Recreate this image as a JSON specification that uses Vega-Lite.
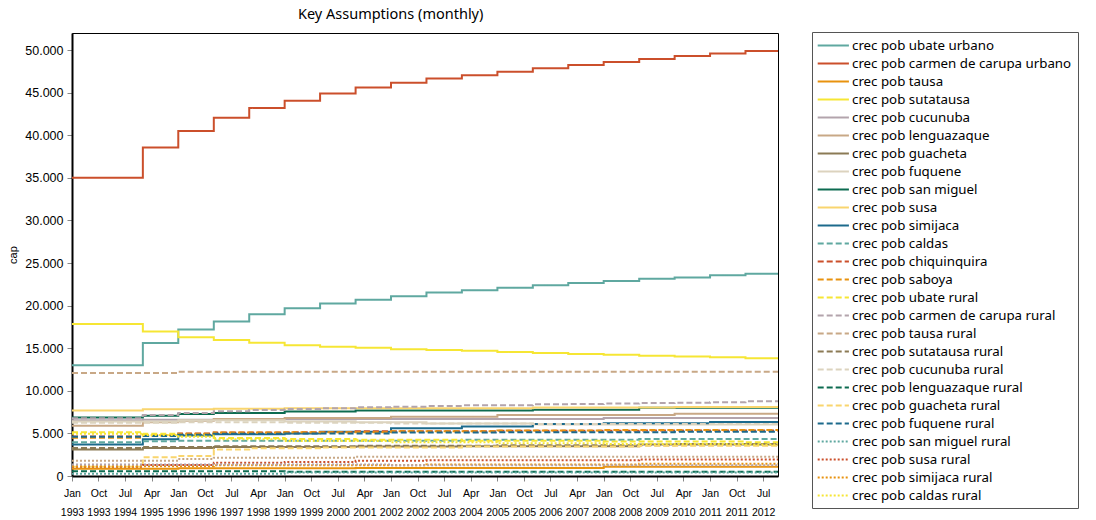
{
  "$schema": "https://vega.github.io/schema/vega-lite/v6.json",
  "width": 706,
  "height": 443,
  "autosize": {"type": "none"},
  "padding": {"left": 72, "top": 33, "right": 318, "bottom": 44},
  "background": "#ffffff",
  "title": {"text": "Key Assumptions (monthly)", "anchor": "start", "frame": "group", "dx": 226, "offset": 9, "font": "Noto Sans", "fontSize": 14.5, "fontWeight": "normal", "color": "#000"},
  "data": {"values": [
    {"s":"crec pob ubate urbano","d":"1993-01-01","v":13000},{"s":"crec pob ubate urbano","d":"1995-01-01","v":15600},{"s":"crec pob ubate urbano","d":"1996-01-01","v":17200},{"s":"crec pob ubate urbano","d":"1997-01-01","v":18150},{"s":"crec pob ubate urbano","d":"1998-01-01","v":19000},{"s":"crec pob ubate urbano","d":"1999-01-01","v":19700},{"s":"crec pob ubate urbano","d":"2000-01-01","v":20250},{"s":"crec pob ubate urbano","d":"2001-01-01","v":20700},{"s":"crec pob ubate urbano","d":"2002-01-01","v":21100},{"s":"crec pob ubate urbano","d":"2003-01-01","v":21550},{"s":"crec pob ubate urbano","d":"2004-01-01","v":21800},{"s":"crec pob ubate urbano","d":"2005-01-01","v":22100},{"s":"crec pob ubate urbano","d":"2006-01-01","v":22400},{"s":"crec pob ubate urbano","d":"2007-01-01","v":22650},{"s":"crec pob ubate urbano","d":"2008-01-01","v":22900},{"s":"crec pob ubate urbano","d":"2009-01-01","v":23150},{"s":"crec pob ubate urbano","d":"2010-01-01","v":23300},{"s":"crec pob ubate urbano","d":"2011-01-01","v":23550},{"s":"crec pob ubate urbano","d":"2012-01-01","v":23750},{"s":"crec pob ubate urbano","d":"2012-12-01","v":23750},
    {"s":"crec pob carmen de carupa urbano","d":"1993-01-01","v":35000},{"s":"crec pob carmen de carupa urbano","d":"1995-01-01","v":38550},{"s":"crec pob carmen de carupa urbano","d":"1996-01-01","v":40500},{"s":"crec pob carmen de carupa urbano","d":"1997-01-01","v":42050},{"s":"crec pob carmen de carupa urbano","d":"1998-01-01","v":43200},{"s":"crec pob carmen de carupa urbano","d":"1999-01-01","v":44050},{"s":"crec pob carmen de carupa urbano","d":"2000-01-01","v":44900},{"s":"crec pob carmen de carupa urbano","d":"2001-01-01","v":45600},{"s":"crec pob carmen de carupa urbano","d":"2002-01-01","v":46150},{"s":"crec pob carmen de carupa urbano","d":"2003-01-01","v":46650},{"s":"crec pob carmen de carupa urbano","d":"2004-01-01","v":47050},{"s":"crec pob carmen de carupa urbano","d":"2005-01-01","v":47450},{"s":"crec pob carmen de carupa urbano","d":"2006-01-01","v":47850},{"s":"crec pob carmen de carupa urbano","d":"2007-01-01","v":48250},{"s":"crec pob carmen de carupa urbano","d":"2008-01-01","v":48600},{"s":"crec pob carmen de carupa urbano","d":"2009-01-01","v":48950},{"s":"crec pob carmen de carupa urbano","d":"2010-01-01","v":49300},{"s":"crec pob carmen de carupa urbano","d":"2011-01-01","v":49600},{"s":"crec pob carmen de carupa urbano","d":"2012-01-01","v":49900},{"s":"crec pob carmen de carupa urbano","d":"2012-12-01","v":49900},
    {"s":"crec pob tausa","d":"1993-01-01","v":850},{"s":"crec pob tausa","d":"1996-01-01","v":900},{"s":"crec pob tausa","d":"2001-01-01","v":950},{"s":"crec pob tausa","d":"2008-01-01","v":1100},{"s":"crec pob tausa","d":"2012-12-01","v":1100},
    {"s":"crec pob sutatausa","d":"1993-01-01","v":17850},{"s":"crec pob sutatausa","d":"1995-01-01","v":16950},{"s":"crec pob sutatausa","d":"1996-01-01","v":16300},{"s":"crec pob sutatausa","d":"1997-01-01","v":15950},{"s":"crec pob sutatausa","d":"1998-01-01","v":15650},{"s":"crec pob sutatausa","d":"1999-01-01","v":15350},{"s":"crec pob sutatausa","d":"2000-01-01","v":15180},{"s":"crec pob sutatausa","d":"2001-01-01","v":15050},{"s":"crec pob sutatausa","d":"2002-01-01","v":14880},{"s":"crec pob sutatausa","d":"2003-01-01","v":14800},{"s":"crec pob sutatausa","d":"2004-01-01","v":14700},{"s":"crec pob sutatausa","d":"2005-01-01","v":14570},{"s":"crec pob sutatausa","d":"2006-01-01","v":14450},{"s":"crec pob sutatausa","d":"2007-01-01","v":14330},{"s":"crec pob sutatausa","d":"2008-01-01","v":14230},{"s":"crec pob sutatausa","d":"2009-01-01","v":14120},{"s":"crec pob sutatausa","d":"2010-01-01","v":14030},{"s":"crec pob sutatausa","d":"2011-01-01","v":13940},{"s":"crec pob sutatausa","d":"2012-01-01","v":13820},{"s":"crec pob sutatausa","d":"2012-12-01","v":13820},
    {"s":"crec pob cucunuba","d":"1993-01-01","v":6550},{"s":"crec pob cucunuba","d":"1995-01-01","v":6600},{"s":"crec pob cucunuba","d":"1997-01-01","v":6650},{"s":"crec pob cucunuba","d":"2001-01-01","v":6700},{"s":"crec pob cucunuba","d":"2008-01-01","v":6800},{"s":"crec pob cucunuba","d":"2012-12-01","v":6800},
    {"s":"crec pob lenguazaque","d":"1993-01-01","v":5900},{"s":"crec pob lenguazaque","d":"1995-01-01","v":6300},{"s":"crec pob lenguazaque","d":"1996-01-01","v":6500},{"s":"crec pob lenguazaque","d":"1997-01-01","v":6700},{"s":"crec pob lenguazaque","d":"1999-01-01","v":6800},{"s":"crec pob lenguazaque","d":"2002-01-01","v":6950},{"s":"crec pob lenguazaque","d":"2005-01-01","v":7150},{"s":"crec pob lenguazaque","d":"2010-01-01","v":7300},{"s":"crec pob lenguazaque","d":"2012-12-01","v":7300},
    {"s":"crec pob guacheta","d":"1993-01-01","v":3100},{"s":"crec pob guacheta","d":"1995-01-01","v":3300},{"s":"crec pob guacheta","d":"1997-01-01","v":3400},{"s":"crec pob guacheta","d":"2001-01-01","v":3450},{"s":"crec pob guacheta","d":"2004-01-01","v":3500},{"s":"crec pob guacheta","d":"2009-01-01","v":3700},{"s":"crec pob guacheta","d":"2012-12-01","v":3700},
    {"s":"crec pob fuquene","d":"1993-01-01","v":6400},{"s":"crec pob fuquene","d":"1996-01-01","v":6550},{"s":"crec pob fuquene","d":"1999-01-01","v":6400},{"s":"crec pob fuquene","d":"2001-01-01","v":6300},{"s":"crec pob fuquene","d":"2003-01-01","v":6150},{"s":"crec pob fuquene","d":"2006-01-01","v":6050},{"s":"crec pob fuquene","d":"2012-12-01","v":6050},
    {"s":"crec pob san miguel","d":"1993-01-01","v":6880},{"s":"crec pob san miguel","d":"1995-01-01","v":7080},{"s":"crec pob san miguel","d":"1996-01-01","v":7280},{"s":"crec pob san miguel","d":"1997-01-01","v":7400},{"s":"crec pob san miguel","d":"1999-01-01","v":7560},{"s":"crec pob san miguel","d":"2001-01-01","v":7680},{"s":"crec pob san miguel","d":"2006-01-01","v":7780},{"s":"crec pob san miguel","d":"2009-01-01","v":8000},{"s":"crec pob san miguel","d":"2012-12-01","v":8000},
    {"s":"crec pob susa","d":"1993-01-01","v":7700},{"s":"crec pob susa","d":"1995-01-01","v":7830},{"s":"crec pob susa","d":"1997-01-01","v":7900},{"s":"crec pob susa","d":"1999-01-01","v":7950},{"s":"crec pob susa","d":"2006-01-01","v":8050},{"s":"crec pob susa","d":"2010-01-01","v":8100},{"s":"crec pob susa","d":"2012-12-01","v":8100},
    {"s":"crec pob simijaca","d":"1993-01-01","v":3700},{"s":"crec pob simijaca","d":"1995-01-01","v":4300},{"s":"crec pob simijaca","d":"1996-01-01","v":4750},{"s":"crec pob simijaca","d":"1997-01-01","v":4900},{"s":"crec pob simijaca","d":"1999-01-01","v":5000},{"s":"crec pob simijaca","d":"2000-01-01","v":5200},{"s":"crec pob simijaca","d":"2002-01-01","v":5600},{"s":"crec pob simijaca","d":"2004-01-01","v":5800},{"s":"crec pob simijaca","d":"2006-01-01","v":6100},{"s":"crec pob simijaca","d":"2008-01-01","v":6200},{"s":"crec pob simijaca","d":"2011-01-01","v":6350},{"s":"crec pob simijaca","d":"2012-12-01","v":6350},
    {"s":"crec pob caldas","d":"1993-01-01","v":3950},{"s":"crec pob caldas","d":"1995-01-01","v":4080},{"s":"crec pob caldas","d":"1996-01-01","v":4150},{"s":"crec pob caldas","d":"2004-01-01","v":4250},{"s":"crec pob caldas","d":"2009-01-01","v":4350},{"s":"crec pob caldas","d":"2012-12-01","v":4350},
    {"s":"crec pob chiquinquira","d":"1993-01-01","v":4650},{"s":"crec pob chiquinquira","d":"1995-01-01","v":4800},{"s":"crec pob chiquinquira","d":"1996-01-01","v":5000},{"s":"crec pob chiquinquira","d":"1997-01-01","v":5100},{"s":"crec pob chiquinquira","d":"1999-01-01","v":5150},{"s":"crec pob chiquinquira","d":"2001-01-01","v":5250},{"s":"crec pob chiquinquira","d":"2005-01-01","v":5300},{"s":"crec pob chiquinquira","d":"2009-01-01","v":5350},{"s":"crec pob chiquinquira","d":"2012-12-01","v":5350},
    {"s":"crec pob saboya","d":"1993-01-01","v":4500},{"s":"crec pob saboya","d":"1995-01-01","v":4750},{"s":"crec pob saboya","d":"1996-01-01","v":4950},{"s":"crec pob saboya","d":"1997-01-01","v":5100},{"s":"crec pob saboya","d":"1999-01-01","v":5150},{"s":"crec pob saboya","d":"2002-01-01","v":5250},{"s":"crec pob saboya","d":"2005-01-01","v":5350},{"s":"crec pob saboya","d":"2008-01-01","v":5400},{"s":"crec pob saboya","d":"2012-12-01","v":5400},
    {"s":"crec pob ubate rural","d":"1993-01-01","v":5150},{"s":"crec pob ubate rural","d":"1995-01-01","v":4950},{"s":"crec pob ubate rural","d":"1996-01-01","v":4750},{"s":"crec pob ubate rural","d":"1997-01-01","v":4450},{"s":"crec pob ubate rural","d":"1999-01-01","v":4350},{"s":"crec pob ubate rural","d":"2001-01-01","v":4250},{"s":"crec pob ubate rural","d":"2004-01-01","v":4150},{"s":"crec pob ubate rural","d":"2008-01-01","v":4050},{"s":"crec pob ubate rural","d":"2012-01-01","v":3950},{"s":"crec pob ubate rural","d":"2012-12-01","v":3950},
    {"s":"crec pob carmen de carupa rural","d":"1993-01-01","v":6780},{"s":"crec pob carmen de carupa rural","d":"1995-01-01","v":7170},{"s":"crec pob carmen de carupa rural","d":"1996-01-01","v":7400},{"s":"crec pob carmen de carupa rural","d":"1997-01-01","v":7600},{"s":"crec pob carmen de carupa rural","d":"1998-01-01","v":7750},{"s":"crec pob carmen de carupa rural","d":"1999-01-01","v":7870},{"s":"crec pob carmen de carupa rural","d":"2000-01-01","v":7950},{"s":"crec pob carmen de carupa rural","d":"2001-01-01","v":8060},{"s":"crec pob carmen de carupa rural","d":"2002-01-01","v":8140},{"s":"crec pob carmen de carupa rural","d":"2003-01-01","v":8220},{"s":"crec pob carmen de carupa rural","d":"2004-01-01","v":8300},{"s":"crec pob carmen de carupa rural","d":"2006-01-01","v":8420},{"s":"crec pob carmen de carupa rural","d":"2007-01-01","v":8460},{"s":"crec pob carmen de carupa rural","d":"2008-01-01","v":8500},{"s":"crec pob carmen de carupa rural","d":"2009-01-01","v":8580},{"s":"crec pob carmen de carupa rural","d":"2010-01-01","v":8610},{"s":"crec pob carmen de carupa rural","d":"2011-01-01","v":8650},{"s":"crec pob carmen de carupa rural","d":"2012-01-01","v":8780},{"s":"crec pob carmen de carupa rural","d":"2012-12-01","v":8780},
    {"s":"crec pob tausa rural","d":"1993-01-01","v":12100},{"s":"crec pob tausa rural","d":"1996-01-01","v":12250},{"s":"crec pob tausa rural","d":"2012-12-01","v":12250},
    {"s":"crec pob sutatausa rural","d":"1993-01-01","v":3300},{"s":"crec pob sutatausa rural","d":"1995-01-01","v":3400},{"s":"crec pob sutatausa rural","d":"1997-01-01","v":3500},{"s":"crec pob sutatausa rural","d":"2001-01-01","v":3550},{"s":"crec pob sutatausa rural","d":"2005-01-01","v":3600},{"s":"crec pob sutatausa rural","d":"2010-01-01","v":3750},{"s":"crec pob sutatausa rural","d":"2012-12-01","v":3750},
    {"s":"crec pob cucunuba rural","d":"1993-01-01","v":6250},{"s":"crec pob cucunuba rural","d":"1996-01-01","v":6300},{"s":"crec pob cucunuba rural","d":"1999-01-01","v":6250},{"s":"crec pob cucunuba rural","d":"2002-01-01","v":6150},{"s":"crec pob cucunuba rural","d":"2006-01-01","v":6100},{"s":"crec pob cucunuba rural","d":"2012-12-01","v":6100},
    {"s":"crec pob lenguazaque rural","d":"1993-01-01","v":550},{"s":"crec pob lenguazaque rural","d":"1999-01-01","v":500},{"s":"crec pob lenguazaque rural","d":"2012-12-01","v":500},
    {"s":"crec pob guacheta rural","d":"1993-01-01","v":1100},{"s":"crec pob guacheta rural","d":"1995-01-01","v":2200},{"s":"crec pob guacheta rural","d":"1996-01-01","v":2350},{"s":"crec pob guacheta rural","d":"1997-01-01","v":3100},{"s":"crec pob guacheta rural","d":"1998-01-01","v":3250},{"s":"crec pob guacheta rural","d":"2000-01-01","v":3350},{"s":"crec pob guacheta rural","d":"2004-01-01","v":3450},{"s":"crec pob guacheta rural","d":"2009-01-01","v":3550},{"s":"crec pob guacheta rural","d":"2012-12-01","v":3550},
    {"s":"crec pob fuquene rural","d":"1993-01-01","v":4600},{"s":"crec pob fuquene rural","d":"1995-01-01","v":4700},{"s":"crec pob fuquene rural","d":"1996-01-01","v":4850},{"s":"crec pob fuquene rural","d":"1997-01-01","v":4950},{"s":"crec pob fuquene rural","d":"1999-01-01","v":5000},{"s":"crec pob fuquene rural","d":"2002-01-01","v":5100},{"s":"crec pob fuquene rural","d":"2005-01-01","v":5150},{"s":"crec pob fuquene rural","d":"2010-01-01","v":5200},{"s":"crec pob fuquene rural","d":"2012-12-01","v":5200},
    {"s":"crec pob san miguel rural","d":"1993-01-01","v":250},{"s":"crec pob san miguel rural","d":"1999-01-01","v":400},{"s":"crec pob san miguel rural","d":"2012-12-01","v":400},
    {"s":"crec pob susa rural","d":"1993-01-01","v":1100},{"s":"crec pob susa rural","d":"1995-01-01","v":1300},{"s":"crec pob susa rural","d":"1997-01-01","v":1550},{"s":"crec pob susa rural","d":"1999-01-01","v":1650},{"s":"crec pob susa rural","d":"2001-01-01","v":1800},{"s":"crec pob susa rural","d":"2003-01-01","v":1850},{"s":"crec pob susa rural","d":"2009-01-01","v":1950},{"s":"crec pob susa rural","d":"2012-12-01","v":1950},
    {"s":"crec pob simijaca rural","d":"1993-01-01","v":1150},{"s":"crec pob simijaca rural","d":"1997-01-01","v":1250},{"s":"crec pob simijaca rural","d":"2003-01-01","v":1350},{"s":"crec pob simijaca rural","d":"2009-01-01","v":1450},{"s":"crec pob simijaca rural","d":"2012-12-01","v":1450},
    {"s":"crec pob caldas rural","d":"1993-01-01","v":4950},{"s":"crec pob caldas rural","d":"1995-01-01","v":4800},{"s":"crec pob caldas rural","d":"1996-01-01","v":4600},{"s":"crec pob caldas rural","d":"1997-01-01","v":4300},{"s":"crec pob caldas rural","d":"1999-01-01","v":4100},{"s":"crec pob caldas rural","d":"2002-01-01","v":3950},{"s":"crec pob caldas rural","d":"2005-01-01","v":3850},{"s":"crec pob caldas rural","d":"2008-01-01","v":3750},{"s":"crec pob caldas rural","d":"2012-01-01","v":3700},{"s":"crec pob caldas rural","d":"2012-12-01","v":3700},
    {"s":"crec pob chiquinquira rural","d":"1993-01-01","v":1350},{"s":"crec pob chiquinquira rural","d":"2002-01-01","v":1250},{"s":"crec pob chiquinquira rural","d":"2012-12-01","v":1250},
    {"s":"crec pob saboya rural","d":"1993-01-01","v":1800},{"s":"crec pob saboya rural","d":"1996-01-01","v":2000},{"s":"crec pob saboya rural","d":"1997-01-01","v":2150},{"s":"crec pob saboya rural","d":"2001-01-01","v":2250},{"s":"crec pob saboya rural","d":"2012-12-01","v":2250}
  ]},
  "mark": {"type": "line", "interpolate": "step-after", "strokeWidth": 2},
  "encoding": {
    "x": {
      "field": "d", "type": "temporal",
      "scale": {"type": "utc", "domain": [{"year": 1993, "month": 1, "date": 1, "utc": true}, {"year": 2012, "month": 12, "date": 1, "utc": true}]},
      "axis": {
        "title": null,
        "values": [
          {"year":1993,"month":1,"date":1,"utc":true},{"year":1993,"month":10,"date":1,"utc":true},{"year":1994,"month":7,"date":1,"utc":true},{"year":1995,"month":4,"date":1,"utc":true},
          {"year":1996,"month":1,"date":1,"utc":true},{"year":1996,"month":10,"date":1,"utc":true},{"year":1997,"month":7,"date":1,"utc":true},{"year":1998,"month":4,"date":1,"utc":true},
          {"year":1999,"month":1,"date":1,"utc":true},{"year":1999,"month":10,"date":1,"utc":true},{"year":2000,"month":7,"date":1,"utc":true},{"year":2001,"month":4,"date":1,"utc":true},
          {"year":2002,"month":1,"date":1,"utc":true},{"year":2002,"month":10,"date":1,"utc":true},{"year":2003,"month":7,"date":1,"utc":true},{"year":2004,"month":4,"date":1,"utc":true},
          {"year":2005,"month":1,"date":1,"utc":true},{"year":2005,"month":10,"date":1,"utc":true},{"year":2006,"month":7,"date":1,"utc":true},{"year":2007,"month":4,"date":1,"utc":true},
          {"year":2008,"month":1,"date":1,"utc":true},{"year":2008,"month":10,"date":1,"utc":true},{"year":2009,"month":7,"date":1,"utc":true},{"year":2010,"month":4,"date":1,"utc":true},
          {"year":2011,"month":1,"date":1,"utc":true},{"year":2011,"month":10,"date":1,"utc":true},{"year":2012,"month":7,"date":1,"utc":true}
        ],
        "labelExpr": "[utcFormat(datum.value, '%b'), utcFormat(datum.value, '%Y')]",
        "labelFont": "Liberation Sans",
        "labelFontSize": 10.5,
        "labelLineHeight": 19,
        "labelAlign": "center",
        "labelOverlap": false,
        "labelFlush": false,
        "labelPadding": 7,
        "grid": false
      }
    },
    "y": {
      "field": "v", "type": "quantitative",
      "scale": {"domain": [0, 52000], "nice": false},
      "axis": {"title": "cap", "values": [0,5000,10000,15000,20000,25000,30000,35000,40000,45000,50000], "format": ",d", "grid": false, "titlePadding": 6, "labelPadding": 4}
    },
    "color": {
      "field": "s", "type": "nominal",
      "scale": {
        "domain": ["crec pob ubate urbano","crec pob carmen de carupa urbano","crec pob tausa","crec pob sutatausa","crec pob cucunuba","crec pob lenguazaque","crec pob guacheta","crec pob fuquene","crec pob san miguel","crec pob susa","crec pob simijaca","crec pob caldas","crec pob chiquinquira","crec pob saboya","crec pob ubate rural","crec pob carmen de carupa rural","crec pob tausa rural","crec pob sutatausa rural","crec pob cucunuba rural","crec pob lenguazaque rural","crec pob guacheta rural","crec pob fuquene rural","crec pob san miguel rural","crec pob susa rural","crec pob simijaca rural","crec pob caldas rural","crec pob chiquinquira rural","crec pob saboya rural"],
        "range": ["#5fa8a0","#cb4f2b","#e8920e","#f6e634","#b3a4ac","#c8a886","#8b7a55","#dcd3be","#0c6b50","#f9d56e","#1c6a8c","#5fa8a0","#cb4f2b","#e8920e","#f6e634","#b3a4ac","#c8a886","#8b7a55","#dcd3be","#0c6b50","#f9d56e","#1c6a8c","#5fa8a0","#cb4f2b","#e8920e","#f6e634","#b3a4ac","#c8a886"]
      },
      "legend": {
        "values": ["crec pob ubate urbano","crec pob carmen de carupa urbano","crec pob tausa","crec pob sutatausa","crec pob cucunuba","crec pob lenguazaque","crec pob guacheta","crec pob fuquene","crec pob san miguel","crec pob susa","crec pob simijaca","crec pob caldas","crec pob chiquinquira","crec pob saboya","crec pob ubate rural","crec pob carmen de carupa rural","crec pob tausa rural","crec pob sutatausa rural","crec pob cucunuba rural","crec pob lenguazaque rural","crec pob guacheta rural","crec pob fuquene rural","crec pob san miguel rural","crec pob susa rural","crec pob simijaca rural","crec pob caldas rural"],
        "title": null,
        "orient": "none",
        "legendX": 740,
        "legendY": -1
      }
    },
    "strokeDash": {
      "field": "s", "type": "nominal",
      "scale": {
        "domain": ["crec pob ubate urbano","crec pob carmen de carupa urbano","crec pob tausa","crec pob sutatausa","crec pob cucunuba","crec pob lenguazaque","crec pob guacheta","crec pob fuquene","crec pob san miguel","crec pob susa","crec pob simijaca","crec pob caldas","crec pob chiquinquira","crec pob saboya","crec pob ubate rural","crec pob carmen de carupa rural","crec pob tausa rural","crec pob sutatausa rural","crec pob cucunuba rural","crec pob lenguazaque rural","crec pob guacheta rural","crec pob fuquene rural","crec pob san miguel rural","crec pob susa rural","crec pob simijaca rural","crec pob caldas rural","crec pob chiquinquira rural","crec pob saboya rural"],
        "range": [[1,0],[1,0],[1,0],[1,0],[1,0],[1,0],[1,0],[1,0],[1,0],[1,0],[1,0],[6,3],[6,3],[6,3],[6,3],[6,3],[6,3],[6,3],[6,3],[6,3],[6,3],[6,3],[2,2],[2,2],[2,2],[2,2],[2,2],[2,2]]
      }
    }
  },
  "config": {
    "locale": {"number": {"decimal": ",", "thousands": ".", "grouping": [3], "currency": ["", ""]}},
    "view": {"stroke": "#000", "strokeWidth": 1},
    "axis": {"labelFont": "Liberation Sans", "labelFontSize": 12.5, "labelColor": "#000", "titleFont": "Liberation Sans", "titleFontSize": 11, "titleFontWeight": "normal", "titleColor": "#000", "domainColor": "#000", "domainWidth": 2, "tickColor": "#888", "tickSize": 5},
    "legend": {
      "strokeColor": "#555", "fillColor": "#fff", "padding": 6, "rowPadding": 4,
      "labelFont": "Noto Sans", "labelFontSize": 13.3, "labelColor": "#000", "labelLimit": 300, "labelOffset": 19,
      "symbolType": "M-1.25,0H3.75", "symbolSize": 156, "symbolStrokeWidth": 2
    }
  }
}
